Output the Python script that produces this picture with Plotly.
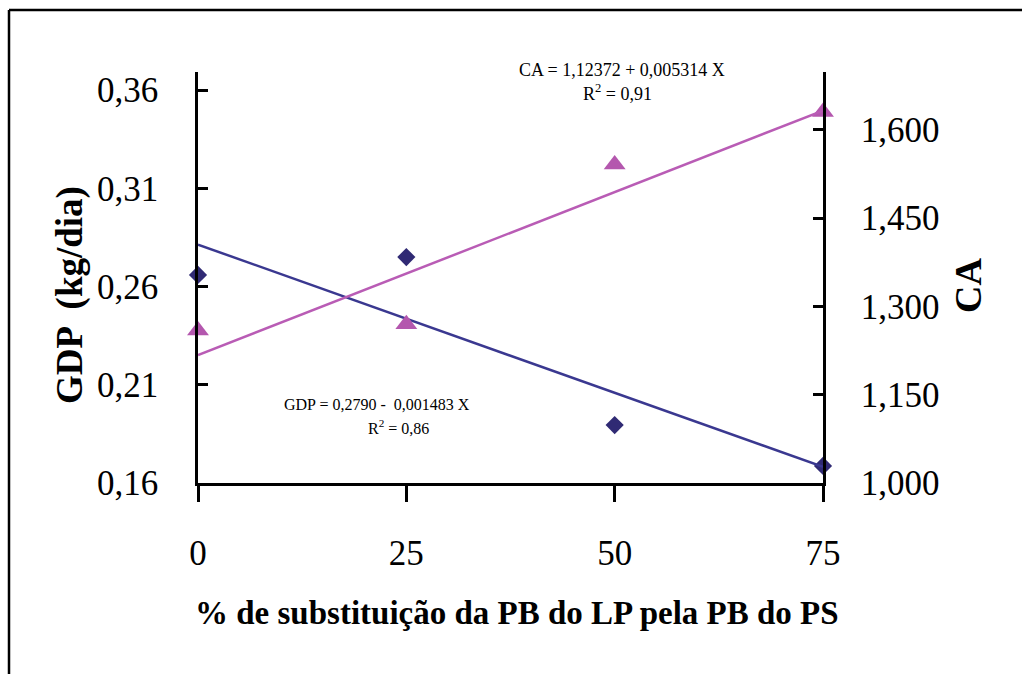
import numpy as np
import plotly.graph_objects as go

# ---- data ----
x_pct = [0, 25, 50, 75]
gdp = [0.2659, 0.2750, 0.1895, 0.1687]
ca = [1.259, 1.2695, 1.541, 1.630]

x_ticks = [0, 25, 50, 75]
gdp_ticks = [0.16, 0.21, 0.26, 0.31, 0.36]
gdp_ticktext = ["0,16", "0,21", "0,26", "0,31", "0,36"]
ca_ticks = [1.0, 1.15, 1.3, 1.45, 1.6]
ca_ticktext = ["1,000", "1,150", "1,300", "1,450", "1,600"]

gdp_eq = "GDP = 0,2790 -  0,001483 X"
gdp_r2 = "R<sup>2</sup> = 0,86"
ca_eq = "CA = 1,12372 + 0,005314 X"
ca_r2 = "R<sup>2</sup> = 0,91"

# ---- linear fits ----
g_slope, g_int = np.polyfit(x_pct, gdp, 1)
c_slope, c_int = np.polyfit(x_pct, ca, 1)
fit_x = [min(x_pct), max(x_pct)]
gdp_fit = [g_int + g_slope * v for v in fit_x]
ca_fit = [c_int + c_slope * v for v in fit_x]

# ---- layout geometry (pixels) ----
W, H = 1022, 674
L, R, T, B = 198, 199, 72, 191
PW, PH = W - L - R, H - T - B


def px_x(p):
    return (p - L) / PW


def px_y(p):
    return (H - B - p) / PH


NAVY = "#302A74"
NAVY_LINE = "#3A3890"
PINK = "#B457AE"
PINK_LINE = "#B95CB5"
FONT = "Liberation Serif"

fig = go.Figure()
fig.add_trace(go.Scatter(x=x_pct, y=gdp, mode="markers", cliponaxis=False,
                         marker=dict(symbol="diamond", size=14, color=NAVY),
                         showlegend=False))
fig.add_trace(go.Scatter(x=x_pct, y=ca, mode="markers", yaxis="y2", cliponaxis=False,
                         marker=dict(symbol="triangle-up", size=19, color=PINK),
                         showlegend=False))
fig.add_trace(go.Scatter(x=fit_x, y=gdp_fit, mode="lines",
                         line=dict(color=NAVY_LINE, width=2.5), showlegend=False))
fig.add_trace(go.Scatter(x=fit_x, y=ca_fit, mode="lines", yaxis="y2",
                         line=dict(color=PINK_LINE, width=2.5), showlegend=False))

fig.update_layout(
    width=W, height=H,
    margin=dict(l=L, r=R, t=T, b=B, pad=0),
    paper_bgcolor="white", plot_bgcolor="white",
    font=dict(family=FONT, color="black"),
    xaxis=dict(range=[0, 75], tickvals=x_ticks, ticks="outside", ticklen=16,
               tickwidth=2.5, tickcolor="black", showline=True, linewidth=2.5,
               linecolor="black", showgrid=False, zeroline=False,
               tickfont=dict(family=FONT, size=35), ticklabelstandoff=21),
    yaxis=dict(range=[0.16, 0.3692], tickvals=gdp_ticks, ticktext=gdp_ticktext,
               ticks="inside", ticklen=10, tickwidth=2.5, tickcolor="black",
               showline=True, linewidth=2.5, linecolor="black", showgrid=False,
               zeroline=False, tickfont=dict(family=FONT, size=35),
               ticklabelstandoff=30),
    yaxis2=dict(range=[1.0, 1.698], tickvals=ca_ticks, ticktext=ca_ticktext,
                overlaying="y", side="right", ticks="inside", ticklen=10,
                tickwidth=2.5, tickcolor="black", showline=True, linewidth=2.5,
                linecolor="black", showgrid=False, zeroline=False,
                tickfont=dict(family=FONT, size=35), ticklabelstandoff=28),
)

annots = [
    dict(text="<b>% de substituição da PB do LP pela PB do PS</b>", x=px_x(517), y=px_y(613),
         font=dict(family=FONT, size=33)),
    dict(text="<b>GDP  (kg/dia)</b>", x=px_x(70), y=px_y(295), textangle=-90,
         font=dict(family=FONT, size=37)),
    dict(text="<b>CA</b>", x=px_x(968), y=px_y(286), textangle=-90,
         font=dict(family=FONT, size=38)),
    dict(text=ca_eq, x=px_x(622), y=px_y(70), font=dict(family=FONT, size=18)),
    dict(text=ca_r2, x=px_x(617), y=px_y(92), font=dict(family=FONT, size=18)),
    dict(text=gdp_eq, x=px_x(377), y=px_y(404), font=dict(family=FONT, size=16)),
    dict(text=gdp_r2, x=px_x(398), y=px_y(427), font=dict(family=FONT, size=16)),
]
for a in annots:
    fig.add_annotation(xref="paper", yref="paper", showarrow=False,
                       xanchor="center", yanchor="middle", **a)

# outer frame (top and left edges visible)
fig.add_shape(type="line", xref="paper", yref="paper",
              x0=px_x(9), x1=px_x(1030), y0=px_y(10), y1=px_y(10),
              line=dict(color="black", width=2.5))
fig.add_shape(type="line", xref="paper", yref="paper",
              x0=px_x(9), x1=px_x(9), y0=px_y(10), y1=px_y(690),
              line=dict(color="black", width=2.5))

fig.write_html("out.html", config={"displayModeBar": False},
               post_script="document.body.style.margin='0px';")
